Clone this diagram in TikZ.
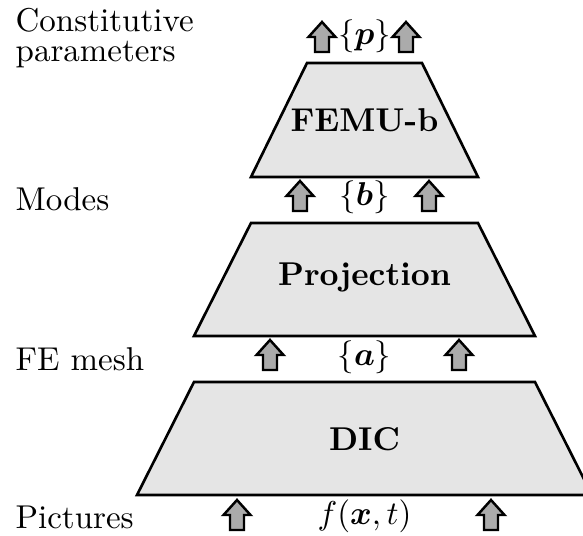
\documentclass[tikz,border=0pt]{standalone}
\usepackage{amsmath,bm}
\definecolor{boxgray}{gray}{0.9}
\definecolor{arrowgray}{gray}{0.67}
\tikzset{
  box/.style={draw=black, fill=boxgray, line width=0.8pt, line join=miter},
  lbl/.style={font=\bfseries, inner sep=0, anchor=base},
  mathlbl/.style={inner sep=0, anchor=base},
  side/.style={anchor=base west, inner sep=0, align=left},
  uparrow/.pic={\path[draw=black, fill=arrowgray, line width=0.75pt, line join=miter]
     (0,-16) -- (13.5,-1) -- (7,-1) -- (7,14) -- (-7,14) -- (-7,-1) -- (-13.5,-1) -- cycle;}
}
\begin{document}
\begin{tikzpicture}[x=0.303pt,y=-0.303pt]
\useasboundingbox (0,0) rectangle (583,536);
% trapezoids
\coordinate (f1) at (307,63);  \coordinate (f2) at (422,63);
\coordinate (f3) at (478,177); \coordinate (f4) at (251,177);
\coordinate (p1) at (251,223); \coordinate (p2) at (478,223);
\coordinate (p3) at (535,336); \coordinate (p4) at (194,336);
\coordinate (d1) at (194,382); \coordinate (d2) at (535,382);
\coordinate (d3) at (592,495); \coordinate (d4) at (137,495);
\draw[box] (f1) -- (f2) -- (f3) -- (f4) -- cycle;
\draw[box] (p1) -- (p2) -- (p3) -- (p4) -- cycle;
\draw[box] (d1) -- (d2) -- (d3) -- (d4) -- cycle;
\node[lbl] (femu) at (364.5,131.5) {FEMU-b};
\node[lbl] (proj) at (364.5,285) {Projection};
\node[lbl] (dic)  at (364.5,450) {DIC};
% side labels
\node[side] (const) at (15,61) {Constitutive\\[-3pt]parameters};
\node[side] (modes) at (15,210) {Modes};
\node[side] (fem)   at (15,370) {FE mesh};
\node[side] (pics)  at (15,529) {Pictures};
% math labels
\node[mathlbl] (pp) at (364.5,44)  {$\{\bm{p}\}$};
\node[mathlbl] (bb) at (364.5,205) {$\{\bm{b}\}$};
\node[mathlbl] (aa) at (364.5,365) {$\{\bm{a}\}$};
\node[mathlbl] (ff) at (364.5,524) {$f(\bm{x},t)$};
% block arrows
\pic at (322,38) {uparrow};
\pic at (406,38) {uparrow};
\pic at (300,197) {uparrow};
\pic at (429,197) {uparrow};
\pic at (270,356) {uparrow};
\pic at (459,356) {uparrow};
\pic at (237,516) {uparrow};
\pic at (491,516) {uparrow};
\end{tikzpicture}
\end{document}
